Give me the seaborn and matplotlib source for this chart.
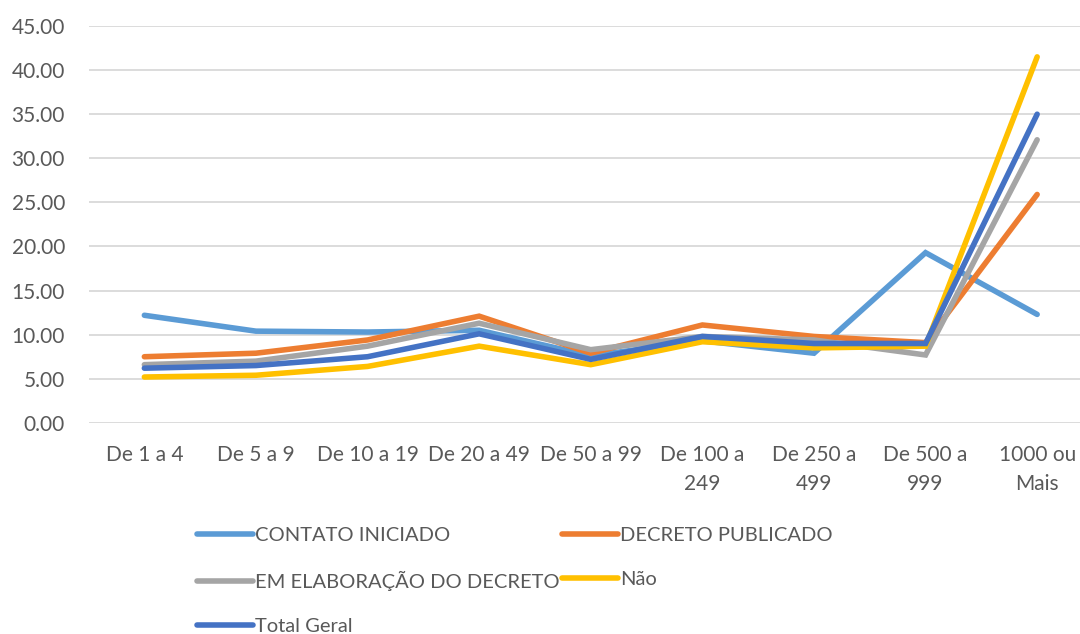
import numpy as np
import pandas as pd
import matplotlib
matplotlib.use("Agg")
import matplotlib.pyplot as plt
import seaborn as sns

categories = ["De 1 a 4", "De 5 a 9", "De 10 a 19", "De 20 a 49", "De 50 a 99",
              "De 100 a\n249", "De 250 a\n499", "De 500 a\n999", "1000 ou\nMais"]

contato_iniciado = [12.2, 10.4, 10.3, 10.5, 7.6, 9.3, 7.9, 19.3, 12.3]
decreto_publicado = [7.5, 7.9, 9.4, 12.1, 7.9, 11.1, 9.8, 9.1, 25.9]
em_elaboracao = [6.6, 7.0, 8.7, 11.3, 8.3, 9.8, 9.4, 7.7, 32.1]
nao = [5.2, 5.4, 6.4, 8.7, 6.6, 9.2, 8.5, 8.7, 41.5]
total_geral = [6.2, 6.5, 7.5, 10.1, 7.2, 9.8, 9.0, 9.0, 35.0]

series_names = ["CONTATO INICIADO", "DECRETO PUBLICADO", "EM ELABORAÇÃO DO DECRETO",
                "Não", "Total Geral"]
series_values = [contato_iniciado, decreto_publicado, em_elaboracao, nao, total_geral]
palette = ["#5B9BD5", "#ED7D31", "#A5A5A5", "#FFC000", "#4472C4"]

rows = []
for name, vals in zip(series_names, series_values):
    for i, v in enumerate(vals):
        rows.append({"pos": i, "serie": name, "valor": v})
df = pd.DataFrame(rows)

sns.set_theme(style="white")
plt.rcParams['font.family'] = ['Lato', 'DejaVu Sans']
text_color = "#595959"
lw = 4.0

fig = plt.figure(figsize=(10.8, 6.34), dpi=100)
ax = fig.add_axes([0.082, 0.333, 0.93, 0.626])

sns.lineplot(data=df, x="pos", y="valor", hue="serie", hue_order=series_names,
             palette=palette, linewidth=lw, ax=ax, legend=False,
             solid_capstyle="round", solid_joinstyle="miter")

ax.set_xlim(-0.5, 8.5)
ax.set_ylim(0, 45)
ax.set_yticks(np.arange(0, 46, 5))
ax.set_yticklabels([f"{v:.2f}" for v in np.arange(0, 46, 5)])
ax.set_xticks(range(len(categories)))
ax.set_xticklabels(categories, linespacing=1.55)
ax.tick_params(axis="both", length=0, labelsize=15, colors=text_color)
ax.tick_params(axis="x", pad=16)
ax.tick_params(axis="y", pad=17)
ax.yaxis.grid(True, color="#D9D9D9", linewidth=1.3)
ax.set_axisbelow(True)
for s in ax.spines.values():
    s.set_visible(False)
ax.set_xlabel("")
ax.set_ylabel("")

# legend filled row by row like the original
handles = [plt.Line2D([0], [0], color=c, linewidth=lw, solid_capstyle="round")
           for c in palette]
order = [0, 2, 4, 1, 3]
fig.legend([handles[i] for i in order], [series_names[i] for i in order],
           loc="upper left", bbox_to_anchor=(0.175, 0.181),
           ncol=2, frameon=False, fontsize=14.5, labelcolor=text_color,
           handlelength=2.8, handletextpad=0.1, columnspacing=0.1,
           labelspacing=1.32, borderaxespad=0)

fig.savefig("out.png", dpi=100)
